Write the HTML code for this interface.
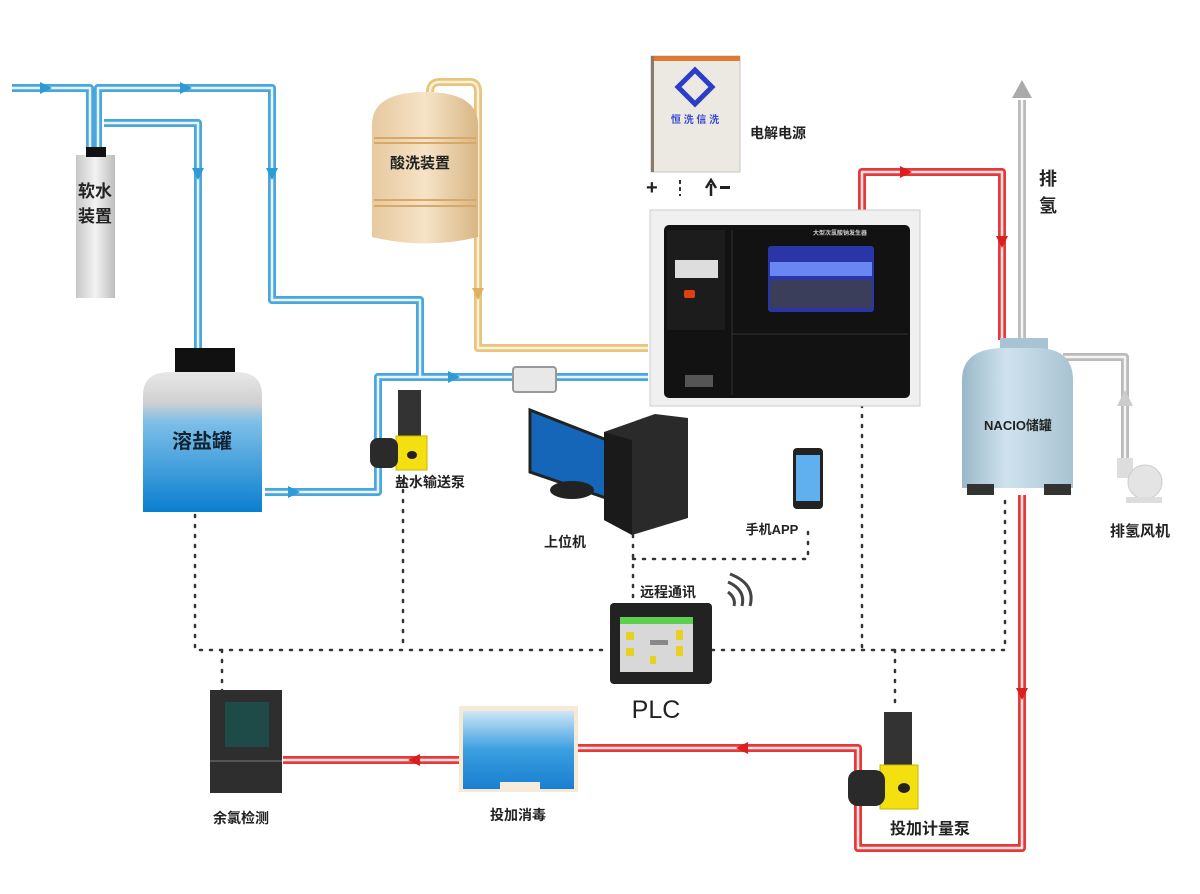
<!DOCTYPE html>
<html><head><meta charset="utf-8"><style>
html,body{margin:0;padding:0;background:#fff;}
svg{display:block;}
text{font-family:"Liberation Sans","Noto Sans CJK SC",sans-serif;font-weight:bold;fill:#222;}
</style></head><body>
<svg width="1200" height="894" viewBox="0 0 1200 894" xmlns="http://www.w3.org/2000/svg">
<defs>
<linearGradient id="salt" x1="0" y1="0" x2="0" y2="1">
<stop offset="0" stop-color="#e8e8e8"/><stop offset="0.22" stop-color="#d0d0d0"/><stop offset="0.35" stop-color="#7fc0e8"/><stop offset="1" stop-color="#0a7fd0"/></linearGradient>
<linearGradient id="soft" x1="0" y1="0" x2="1" y2="0">
<stop offset="0" stop-color="#c8c8c8"/><stop offset="0.5" stop-color="#f2f2f2"/><stop offset="1" stop-color="#bdbdbd"/></linearGradient>
<linearGradient id="acid" x1="0" y1="0" x2="1" y2="0">
<stop offset="0" stop-color="#e6c9a0"/><stop offset="0.5" stop-color="#f6e3c6"/><stop offset="1" stop-color="#d8b685"/></linearGradient>
<linearGradient id="nacl" x1="0" y1="0" x2="1" y2="0">
<stop offset="0" stop-color="#9ab8c8"/><stop offset="0.4" stop-color="#cfe3ee"/><stop offset="1" stop-color="#a8c3d2"/></linearGradient>
<linearGradient id="dose" x1="0" y1="0" x2="0" y2="1">
<stop offset="0" stop-color="#cfe6f6"/><stop offset="0.5" stop-color="#3a9ee0"/><stop offset="1" stop-color="#1a7fd0"/></linearGradient>
</defs>

<!-- blue pipes -->
<g fill="none" stroke-linejoin="round">
<g stroke="#4aa6dc" stroke-width="8">
<path d="M12 88 H90 V150"/>
<path d="M98 150 V88 H272 V300 H420 V377"/>
<path d="M104 123 H198 V350"/>
<path d="M265 492 H378 V377 H648"/>
</g>
<g stroke="#e6f5fc" stroke-width="2.5">
<path d="M12 88 H90 V150"/>
<path d="M98 150 V88 H272 V300 H420 V377"/>
<path d="M104 123 H198 V350"/>
<path d="M265 492 H378 V377 H648"/>
</g>
<!-- yellow -->
<path d="M430 92 Q430 82 440 82 H470 Q478 82 478 92 V348 H648" stroke="#e8c47c" stroke-width="8"/>
<path d="M430 92 Q430 82 440 82 H470 Q478 82 478 92 V348 H648" stroke="#fbf0d8" stroke-width="2.5"/>
<!-- red -->
<g stroke="#e8383a" stroke-width="8">
<path d="M862 212 V172 H1002 V340"/>
<path d="M1022 495 V848 H858 V748 H575"/>
<path d="M460 760 H283"/>
</g>
<g stroke="#fde4e4" stroke-width="2.5">
<path d="M862 212 V172 H1002 V340"/>
<path d="M1022 495 V848 H858 V748 H575"/>
<path d="M460 760 H283"/>
</g>
<!-- gray -->
<g stroke="#bbbbbb" stroke-width="8">
<path d="M1022 340 V100"/><path d="M1063 357 H1125 V462"/></g>
<g stroke="#f4f4f4" stroke-width="2.5">
<path d="M1022 340 V100"/><path d="M1063 357 H1125 V462"/></g>
</g>
<polygon points="1022,80 1012,98 1032,98" fill="#aaa"/>
<polygon points="1125,390 1117,406 1133,406" fill="#ccc"/>
<!-- arrows -->
<g fill="#2e9ad6">
<polygon points="40,82 40,94 52,88"/>
<polygon points="180,82 180,94 192,88"/>
<polygon points="192,168 204,168 198,180"/>
<polygon points="266,168 278,168 272,180"/>
<polygon points="288,486 288,498 300,492"/>
<polygon points="448,371 448,383 460,377"/>
</g>
<polygon points="472,288 484,288 478,300" fill="#e0b060"/>
<g fill="#d82020">
<polygon points="900,166 900,178 912,172"/>
<polygon points="996,236 1008,236 1002,248"/>
<polygon points="1016,688 1028,688 1022,700"/>
<polygon points="748,742 748,754 736,748"/>
<polygon points="420,754 420,766 408,760"/>
</g>

<!-- dotted lines -->
<g fill="none" stroke="#333" stroke-width="2.5" stroke-dasharray="2 8" stroke-linecap="round">
<path d="M195 515 V650 H610"/>
<path d="M712 650 H1005 V498"/>
<path d="M403 480 V650"/>
<path d="M862 405 V650"/>
<path d="M222 650 V692"/>
<path d="M895 650 V710"/>
<path d="M633 535 V600"/>
<path d="M633 559 H808 V525"/>
</g>

<!-- softener -->
<rect x="76" y="155" width="39" height="143" fill="url(#soft)"/>
<rect x="86" y="147" width="20" height="10" fill="#111"/>
<text x="95" y="197" font-size="17" text-anchor="middle">软水</text>
<text x="95" y="222" font-size="17" text-anchor="middle">装置</text>

<!-- salt tank -->
<rect x="175" y="348" width="60" height="26" fill="#111"/>
<path d="M143 395 Q143 372 170 372 H236 Q262 372 262 395 V512 H143 Z" fill="url(#salt)"/>
<text x="202" y="448" font-size="20" text-anchor="middle" fill="#fff" style="fill:#123">溶盐罐</text>

<!-- acid tank -->
<path d="M372 125 Q372 92 425 92 Q478 92 478 125 V237 Q425 250 372 237 Z" fill="url(#acid)"/>
<g stroke="#d9a868" stroke-width="2"><line x1="374" y1="138" x2="476" y2="138"/><line x1="374" y1="143" x2="476" y2="143"/><line x1="374" y1="200" x2="476" y2="200"/><line x1="374" y1="206" x2="476" y2="206"/></g>
<text x="420" y="168" font-size="15" text-anchor="middle">酸洗装置</text>

<!-- filter -->
<rect x="513" y="367" width="43" height="25" rx="3" fill="#e8e8e8" stroke="#999" stroke-width="2"/>

<!-- brine pump -->
<rect x="398" y="390" width="23" height="48" fill="#333"/>
<rect x="396" y="436" width="31" height="34" fill="#f4e010" stroke="#c8b400"/>
<ellipse cx="412" cy="455" rx="5" ry="4" fill="#222"/>
<rect x="370" y="438" width="28" height="30" rx="8" fill="#2a2a2a"/>
<text x="430" y="487" font-size="14" text-anchor="middle">盐水输送泵</text>

<!-- power supply -->
<rect x="651" y="56" width="89" height="116" fill="#ece8e2" stroke="#c8c4be"/>
<rect x="651" y="56" width="89" height="5" fill="#e07a30"/>
<rect x="651" y="56" width="3" height="116" fill="#8a7a6a"/>
<path d="M695 70 L712 87 L695 104 L678 87 Z" fill="none" stroke="#2a3fc8" stroke-width="5"/>
<text x="695" y="123" font-size="10" text-anchor="middle" fill="#2a3fc8" style="fill:#3a4ad0">恒 洗 信 洗</text>
<text x="750" y="138" font-size="14">电解电源</text>
<text x="646" y="194" font-size="20">+</text>
<line x1="680" y1="180" x2="680" y2="196" stroke="#333" stroke-width="2" stroke-dasharray="4 3"/>
<path d="M711 196 V184 M706 188 L711 180 L716 188" stroke="#222" stroke-width="2.5" fill="none"/>
<rect x="720" y="186" width="10" height="3" fill="#222"/>

<!-- generator -->
<rect x="650" y="210" width="270" height="196" fill="#f0f0f0" stroke="#ccc"/>
<rect x="664" y="225" width="246" height="173" rx="5" fill="#121212"/>
<rect x="667" y="230" width="58" height="100" fill="#1c1c1c"/>
<rect x="675" y="260" width="43" height="18" fill="#ddd"/>
<rect x="684" y="290" width="11" height="8" rx="2" fill="#e04010"/>
<line x1="732" y1="230" x2="732" y2="395" stroke="#333"/>
<line x1="732" y1="334" x2="908" y2="334" stroke="#333"/>
<rect x="768" y="246" width="106" height="66" rx="3" fill="#2a36a8"/>
<rect x="770" y="262" width="102" height="14" fill="#6a86f0"/>
<rect x="770" y="280" width="102" height="28" fill="#3a3e5a"/>
<rect x="685" y="375" width="28" height="12" fill="#555"/>
<text x="840" y="235" font-size="6" fill="#ccc" style="fill:#ccc" text-anchor="middle">大型次氯酸钠发生器</text>

<!-- computer -->
<path d="M530 410 L612 442 L612 500 L530 472 Z" fill="#1565b8" stroke="#222" stroke-width="3"/>
<ellipse cx="572" cy="490" rx="22" ry="9" fill="#222"/>
<path d="M604 432 L655 414 L688 418 L688 518 L632 535 L604 520 Z" fill="#2a2a2a"/>
<path d="M604 432 L632 440 L632 535 L604 520 Z" fill="#1a1a1a"/>
<text x="565" y="547" font-size="14" text-anchor="middle">上位机</text>

<!-- phone -->
<rect x="793" y="448" width="30" height="61" rx="4" fill="#222"/>
<rect x="796" y="455" width="24" height="46" fill="#60b0f0"/>
<text x="772" y="534" font-size="13" text-anchor="middle">手机APP</text>

<!-- remote comm -->
<text x="640" y="597" font-size="14">远程通讯</text>
<g fill="none" stroke="#444" stroke-width="3">
<path d="M728 592 Q736 598 734 606"/><path d="M728 582 Q746 590 742 606"/><path d="M730 574 Q756 584 750 606"/></g>

<!-- PLC -->
<rect x="610" y="603" width="102" height="81" rx="4" fill="#222"/>
<rect x="620" y="617" width="73" height="55" fill="#d8d8d8"/>
<rect x="620" y="617" width="73" height="7" fill="#5cd04c"/>
<g fill="#e8d020"><rect x="626" y="632" width="8" height="8"/><rect x="626" y="648" width="8" height="8"/><rect x="676" y="630" width="7" height="10"/><rect x="676" y="646" width="7" height="10"/><rect x="650" y="656" width="6" height="8"/></g>
<rect x="650" y="640" width="18" height="5" fill="#888"/>
<text x="656" y="718" font-size="25" text-anchor="middle" font-weight="normal" style="font-weight:normal">PLC</text>

<!-- NACIO tank -->
<rect x="1000" y="338" width="48" height="14" fill="#a8c3d2"/>
<path d="M962 380 Q962 350 1000 348 H1040 Q1073 350 1073 380 V488 H962 Z" fill="url(#nacl)"/>
<rect x="967" y="484" width="27" height="11" fill="#333"/>
<rect x="1044" y="484" width="27" height="11" fill="#333"/>
<text x="1018" y="430" font-size="13" text-anchor="middle">NACIO储罐</text>
<text x="1048" y="185" font-size="18" text-anchor="middle">排</text>
<text x="1048" y="212" font-size="18" text-anchor="middle">氢</text>

<!-- fan -->
<rect x="1117" y="458" width="16" height="20" fill="#ddd"/>
<circle cx="1145" cy="482" r="17" fill="#e4e4e4" stroke="#ccc"/>
<rect x="1126" y="497" width="36" height="6" fill="#ddd"/>
<text x="1140" y="536" font-size="15" text-anchor="middle">排氢风机</text>

<!-- residual chlorine -->
<rect x="210" y="690" width="72" height="103" fill="#2e2e2e"/>
<rect x="225" y="702" width="44" height="45" fill="#1e4a48"/>
<rect x="210" y="760" width="72" height="2" fill="#555"/>
<text x="241" y="823" font-size="14" text-anchor="middle">余氯检测</text>

<!-- dosing tank -->
<rect x="459" y="706" width="119" height="86" fill="#f6ead6"/>
<rect x="463" y="711" width="111" height="78" fill="url(#dose)"/>
<rect x="500" y="782" width="40" height="7" fill="#f4ecdc"/>
<text x="518" y="820" font-size="14" text-anchor="middle">投加消毒</text>

<!-- dosing pump -->
<rect x="884" y="712" width="28" height="55" fill="#333"/>
<rect x="880" y="765" width="38" height="44" fill="#f4e010" stroke="#c8b400"/>
<ellipse cx="904" cy="788" rx="6" ry="5" fill="#222"/>
<rect x="848" y="770" width="37" height="36" rx="10" fill="#2a2a2a"/>
<text x="930" y="834" font-size="16" text-anchor="middle">投加计量泵</text>
</svg>
</body></html>
